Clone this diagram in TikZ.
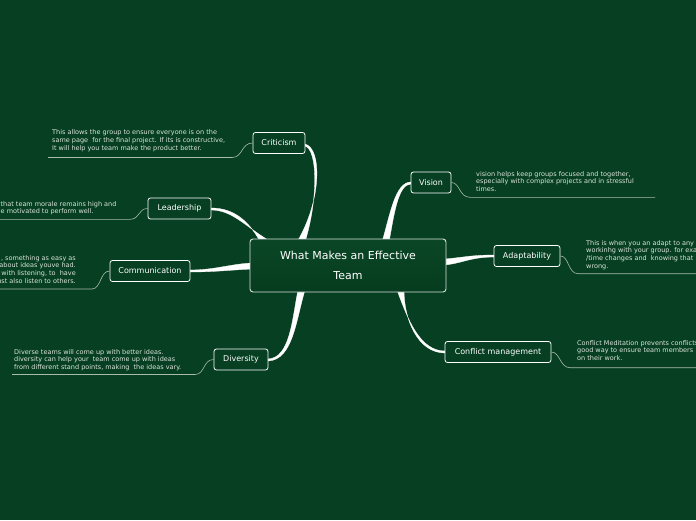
\documentclass[tikz,border=0pt]{standalone}
\usepackage{fontspec}
\setmainfont{DejaVu Sans}
\definecolor{bg}{HTML}{063F21}
\definecolor{cfill}{HTML}{0A4726}
\definecolor{cfillb}{HTML}{063C1F}
\definecolor{leader}{HTML}{A9BBAA}
\definecolor{note}{HTML}{DCE4DC}
\tikzset{
  branch/.style={draw=white, line width=0.8pt, rounded corners=2.5pt, fill=bg, text=white,
    font=\fontsize{8}{9}\selectfont, minimum height=21pt, inner sep=1pt},
  central/.style={draw=white!85!bg, line width=0.9pt, rounded corners=3pt, top color=cfill, bottom color=cfillb,
    text=white, font=\fontsize{11}{20}\selectfont, align=center, minimum width=196pt, minimum height=53pt, inner sep=0pt},
  notetext/.style={text=note, font=\fontsize{6.5}{7.8}\selectfont, inner sep=0pt},
  leaderline/.style={draw=leader, line width=0.6pt},
  trunk/.style={fill=white, draw=white, line width=0.3pt}
}
\begin{document}
\begin{tikzpicture}[x=1pt,y=-1pt]
\fill[bg] (0,0) rectangle (696,520);
\useasboundingbox (0,0) rectangle (696,520);
\clip (0,0) rectangle (696,520);

% tapered trunks (drawn below boxes)
\fill[trunk] (297,242) .. controls (322,200) and (322,148) .. (305,144) -- (305,146) .. controls (318,150) and (318,200) .. (305,242) -- cycle;
\fill[trunk] (262,245) .. controls (250,222) and (235,208) .. (211,208) -- (211,210) .. controls (232,210) and (245,226) .. (268,240) -- cycle;
\fill[trunk] (252,263) .. controls (230,264) and (215,270) .. (190,270) -- (190,272) .. controls (215,272) and (230,270) .. (252,269) -- cycle;
\fill[trunk] (298,290) .. controls (292,320) and (290,358) .. (268,359) -- (268,361) .. controls (293,360) and (296,320) .. (305,290) -- cycle;
\fill[trunk] (382,242) .. controls (390,215) and (395,182) .. (411,182) -- (411,184) .. controls (398,184) and (394,215) .. (389,242) -- cycle;
\fill[trunk] (444,259) .. controls (460,258) and (470,255) .. (494,255) -- (494,257) .. controls (470,257) and (460,264) .. (444,265) -- cycle;
\fill[trunk] (397,290) .. controls (408,320) and (420,351) .. (445,351) -- (445,353) .. controls (418,353) and (404,320) .. (404,290) -- cycle;

% central node
\node[central] (c) at (348,265.5) {What Makes an Effective\\Team};

% branch nodes
\node[branch, minimum width=52pt] (crit) at (279,143) {Criticism};
\node[branch, minimum width=63pt] (lead) at (179.5,208.5) {Leadership};
\node[branch, minimum width=80pt] (comm) at (150,271) {Communication};
\node[branch, minimum width=54pt] (div) at (241,359.5) {Diversity};
\node[branch, minimum width=40pt] (vis) at (431,182.5) {Vision};
\node[branch, minimum width=66pt] (adapt) at (527,256) {Adaptability};
\node[branch, minimum width=106pt] (conf) at (498,352) {Conflict management};

% leader line ends
\coordinate (critA) at (232,157.5); \coordinate (critB) at (48,157.5);
\coordinate (leadA) at (130,219.3); \coordinate (leadB) at (0,219.3);
\coordinate (commA) at (92,289); \coordinate (commB) at (0,289);
\coordinate (divA) at (195,374.5); \coordinate (divB) at (12,374.5);
\coordinate (visA) at (470,197.3); \coordinate (visB) at (655,197.3);
\coordinate (adA) at (578,273.7); \coordinate (adB) at (696,273.7);
\coordinate (confA) at (570,367.7); \coordinate (confB) at (696,367.7);

\draw[leaderline] (crit.west) .. controls (241,143) and (243,157.5) .. (critA) -- (critB);
\draw[leaderline] (lead.west) .. controls (138,208.5) and (140,219.3) .. (leadA) -- (leadB);
\draw[leaderline] (comm.west) .. controls (100,271) and (101,289) .. (commA) -- (commB);
\draw[leaderline] (div.west) .. controls (203,359.5) and (205,374.5) .. (divA) -- (divB);
\draw[leaderline] (vis.east) .. controls (460,182.5) and (459,197.3) .. (visA) -- (visB);
\draw[leaderline] (adapt.east) .. controls (569,256) and (568,273.7) .. (adA) -- (adB);
\draw[leaderline] (conf.east) .. controls (560,352) and (560,367.7) .. (confA) -- (confB);

% notes
\node[notetext, anchor=north west, align=left] (tcrit) at (52,129.5) {This allows the group to ensure everyone is on the\\same page\ \ for the final project. If its is constructive,\\It will help you team make the product better.};
\node[notetext, anchor=north west, align=left] (tlead) at (0.5,201) {that team morale remains high and\\e motivated to perform well.};
\node[notetext, anchor=north east, align=right] (tcomm) at (76,255) {, something as easy as\\about ideas youve had.\\\ with listening, to\ \ have\\ust also listen to others.};
\node[notetext, anchor=north west, align=left] (tdiv) at (14,349) {Diverse teams will come up with better ideas.\\diversity can help your\ \ team come up with ideas\\from different stand points, making\ \ the ideas vary.};
\node[notetext, anchor=north west, align=left] (tvis) at (476,171) {vision helps keep groups focused and together,\\especially with complex projects and in stressful\\times.};
\node[notetext, anchor=north west, align=left] (tad) at (586,240) {This is when you an adapt to any\\workinhg with your group. for exa\\/time changes and\ \ knowing that\\wrong.};
\node[notetext, anchor=north west, align=left] (tconf) at (577,340) {Conflict Meditation prevents conflicts\\good way to ensure team members\\on their work.};
\end{tikzpicture}
\end{document}
